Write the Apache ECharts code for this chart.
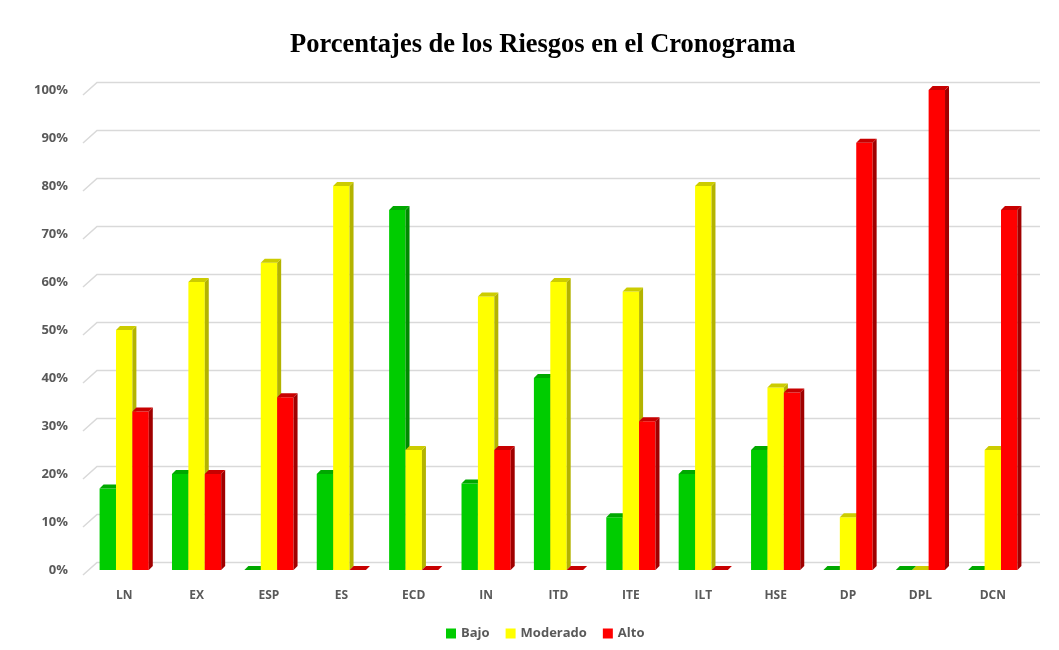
<!DOCTYPE html>
<html>
<head>
<meta charset="utf-8">
<script src="https://cdn.jsdelivr.net/npm/echarts@6/dist/echarts.min.js"></script>
<style>
  html, body { margin: 0; padding: 0; background: #fff; }
  #chart { width: 1059px; height: 650px; }
</style>
</head>
<body>
<div id="chart"></div>
<script>
// datos
var categories = ['LN', 'EX', 'ESP', 'ES', 'ECD', 'IN', 'ITD', 'ITE', 'ILT', 'HSE', 'DP', 'DPL', 'DCN'];
var bajo     = [17, 20, 0, 20, 75, 18, 40, 11, 20, 25, 0, 0, 0];
var moderado = [50, 60, 64, 80, 25, 57, 60, 58, 80, 38, 11, 0, 25];
var alto     = [33, 20, 36, 0, 0, 25, 0, 31, 0, 37, 89, 100, 75];
var ticks    = [0, 10, 20, 30, 40, 50, 60, 70, 80, 90, 100];

var BAR_W = 16.4;
var DX = 4, DY = 4;

// colores: frente, lado, tapa
var palette = [
  { front: '#00cc00', side: '#008a00', top: '#00a800' },
  { front: '#ffff00', side: '#b3b300', top: '#cccc00' },
  { front: '#ff0000', side: '#a00000', top: '#c80000' }
];

function barSeries(name, values, idx) {
  var c = palette[idx];
  return {
    name: name,
    type: 'custom',
    itemStyle: { color: c.front },
    data: values.map(function (v, i) { return [i, v]; }),
    renderItem: function (params, api) {
      var top = api.coord([api.value(0), api.value(1)]);
      var base = api.coord([api.value(0), 0]);
      var x = top[0] + (idx - 1) * BAR_W - BAR_W / 2;
      var yt = top[1], yb = base[1];
      return {
        type: 'group',
        children: [
          { type: 'rect', shape: { x: x, y: yt, width: BAR_W, height: yb - yt }, style: { fill: c.front } },
          { type: 'polygon', shape: { points: [[x + BAR_W, yt], [x + BAR_W + DX, yt - DY], [x + BAR_W + DX, yb - DY], [x + BAR_W, yb]] }, style: { fill: c.side } },
          { type: 'polygon', shape: { points: [[x, yt], [x + DX, yt - DY], [x + BAR_W + DX, yt - DY], [x + BAR_W, yt]] }, style: { fill: c.top } }
        ]
      };
    },
    z: 3
  };
}

var myChart = echarts.init(document.getElementById('chart'));

var option = {
  animation: false,
  title: {
    text: 'Porcentajes de los Riesgos en el Cronograma',
    left: 285,
    top: 27,
    textStyle: { fontFamily: 'Liberation Serif', fontWeight: 'bold', fontSize: 26.5, color: '#000' }
  },
  legend: {
    data: ['Bajo', 'Moderado', 'Alto'],
    bottom: 5,
    left: 441,
    icon: 'rect',
    itemWidth: 10,
    itemHeight: 10,
    itemGap: 16,
    textStyle: { fontFamily: 'Open Sans', fontWeight: 'bold', fontSize: 13, color: '#595959' }
  },
  grid: { left: 88, right: 30, top: 90, bottom: 80 },
  xAxis: {
    type: 'category',
    data: categories,
    axisLine: { show: false },
    axisTick: { show: false },
    axisLabel: { margin: 20, fontFamily: 'Open Sans', fontWeight: 'bold', fontSize: 12, color: '#595959' }
  },
  yAxis: {
    type: 'value',
    min: 0,
    max: 100,
    interval: 10,
    splitLine: { show: false },
    axisLine: { show: false },
    axisTick: { show: false },
    axisLabel: { margin: 20, formatter: '{value}%', fontFamily: 'Open Sans', fontWeight: 'bold', fontSize: 13, color: '#595959', padding: [9, 0, 0, 0] }
  },
  series: [
    {
      name: 'grid',
      type: 'custom',
      silent: true,
      z: 1,
      data: ticks.map(function (t) { return [0, t]; }),
      renderItem: function (params, api) {
        var band = api.size([1, 0])[0];
        var p0 = api.coord([0, api.value(1)]);
        var p1 = api.coord([categories.length - 1, api.value(1)]);
        var left = p0[0] - band / 2;
        var right = p1[0] + band / 2;
        var y = p0[1];
        return {
          type: 'polyline',
          shape: { points: [[left - 5, y + 5], [left + 9, y - 7.5], [right + 11, y - 7.5]] },
          style: { stroke: '#d9d9d9', lineWidth: 1.5, fill: null }
        };
      }
    },
    barSeries('Bajo', bajo, 0),
    barSeries('Moderado', moderado, 1),
    barSeries('Alto', alto, 2)
  ]
};

myChart.setOption(option);
</script>
</body>
</html>
